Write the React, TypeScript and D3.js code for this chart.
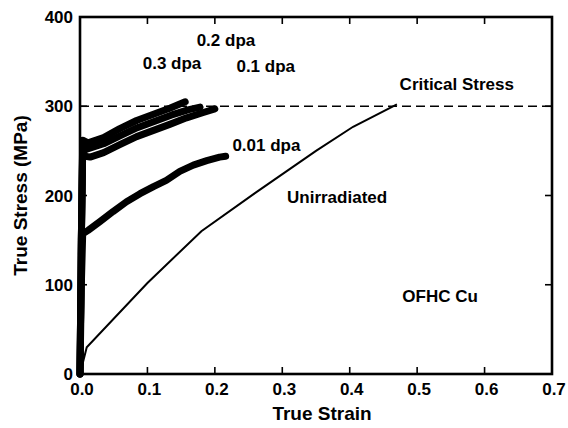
import React from "react";
import * as d3 from "d3";

const xTicks = [0, 0.1, 0.2, 0.3, 0.4, 0.5, 0.6, 0.7];
const yTicks = [0, 100, 200, 300, 400];
const criticalStress = 300;

const unirradiated: [number, number][] = [
  [0, 0], [0.01, 30], [0.1, 102], [0.18, 160], [0.26, 203], [0.35, 250], [0.405, 277], [0.47, 302],
];
const dose001: [number, number][] = [
  [0, 0], [0.002, 100], [0.004, 157], [0.012, 161], [0.03, 171], [0.049, 182], [0.069, 193], [0.089, 202],
  [0.109, 210], [0.128, 217], [0.148, 227], [0.168, 234], [0.188, 239], [0.207, 243], [0.216, 244],
];
const dose03: [number, number][] = [
  [0, 0], [0.002, 150], [0.004, 262], [0.012, 259], [0.035, 265], [0.059, 275], [0.084, 284],
  [0.109, 291], [0.134, 298], [0.156, 305],
];
const dose02: [number, number][] = [
  [0, 0], [0.002, 150], [0.004, 257], [0.01, 252], [0.035, 258], [0.06, 267], [0.085, 276],
  [0.11, 283], [0.135, 290], [0.16, 296], [0.178, 299],
];
const dose01: [number, number][] = [
  [0, 0], [0.002, 150], [0.004, 250], [0.008, 244], [0.015, 243], [0.035, 248], [0.059, 257], [0.084, 266],
  [0.109, 273], [0.134, 280], [0.158, 287], [0.183, 293], [0.2, 297],
];

const labels = [
  { text: "0.2 dpa", x: 0.173, y: 368 },
  { text: "0.3 dpa", x: 0.093, y: 342 },
  { text: "0.1 dpa", x: 0.232, y: 338 },
  { text: "0.01 dpa", x: 0.226, y: 250 },
  { text: "Critical Stress", x: 0.474, y: 318 },
  { text: "Unirradiated", x: 0.307, y: 192 },
  { text: "OFHC Cu", x: 0.478, y: 81 },
];

export default function App() {
  const W = 568, H = 428;
  const x = d3.scaleLinear().domain([0, 0.7]).range([80, 552]);
  const y = d3.scaleLinear().domain([0, 400]).range([374, 17]);
  const line = d3.line<[number, number]>().x(d => x(d[0])).y(d => y(d[1]));
  const font = "'Liberation Sans', Arial, sans-serif";
  const [x0, x1] = x.range();
  const [y0, y1] = y.range();
  const tl = 7;

  return (
    <svg width={W} height={H} style={{ position: "absolute", left: 0, top: 0, background: "#fff" }} fontFamily={font}>
      <line x1={x0} x2={x1} y1={y(criticalStress)} y2={y(criticalStress)} stroke="#000" strokeWidth={1.6} strokeDasharray="9,5" />
      {[dose001, dose01, dose02, dose03].map((d, i) => (
        <path key={i} d={line(d) || ""} fill="none" stroke="#000" strokeWidth={7} strokeLinejoin="round" strokeLinecap="round" />
      ))}
      <path d={line(unirradiated) || ""} fill="none" stroke="#000" strokeWidth={2} />
      <rect x={x0} y={y1} width={x1 - x0} height={y0 - y1} fill="none" stroke="#000" strokeWidth={2.6} />
      {xTicks.map(t => (
        <g key={"x" + t}>
          <line x1={x(t)} x2={x(t)} y1={y0} y2={y0 - tl} stroke="#000" strokeWidth={1.6} />
          <line x1={x(t)} x2={x(t)} y1={y1} y2={y1 + tl} stroke="#000" strokeWidth={1.6} />
          <text x={x(t) + 2} y={395} textAnchor="middle" fontSize={17} fontWeight="bold">{t.toFixed(1)}</text>
        </g>
      ))}
      {yTicks.map(t => (
        <g key={"y" + t}>
          <line x1={x0} x2={x0 + tl} y1={y(t)} y2={y(t)} stroke="#000" strokeWidth={1.6} />
          <line x1={x1} x2={x1 - tl} y1={y(t)} y2={y(t)} stroke="#000" strokeWidth={1.6} />
          <text x={73} y={y(t) + 6} textAnchor="end" fontSize={17} fontWeight="bold">{t}</text>
        </g>
      ))}
      <text x={322} y={420} textAnchor="middle" fontSize={19} fontWeight="bold">True Strain</text>
      <text transform={`translate(27,${(y0 + y1) / 2}) rotate(-90)`} textAnchor="middle" fontSize={19} fontWeight="bold">True Stress (MPa)</text>
      {labels.map(l => (
        <text key={l.text} x={x(l.x)} y={y(l.y)} fontSize={17} fontWeight="bold">{l.text}</text>
      ))}
    </svg>
  );
}
